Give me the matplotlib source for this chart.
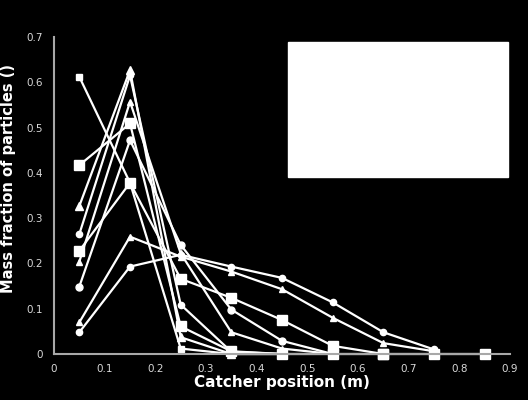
import matplotlib
matplotlib.use("Agg")
import matplotlib.pyplot as plt
from matplotlib.patches import Rectangle

# catcher positions (m)
positions = [0.05, 0.15, 0.25, 0.35, 0.45, 0.55, 0.65, 0.75, 0.85]

# mass fraction per run
run_a = [0.327, 0.627, 0.037, 0.0, 0.0]
run_b = [0.265, 0.615, 0.109, 0.005, 0.0]
run_c = [0.204, 0.557, 0.222, 0.048, 0.012, 0.0]
run_d = [0.417, 0.509, 0.061, 0.006, 0.0, 0.0, 0.0]
run_e = [0.149, 0.472, 0.241, 0.098, 0.029, 0.0]
run_f = [0.612, 0.378, 0.012, 0.0, 0.0]
run_g = [0.228, 0.378, 0.166, 0.124, 0.075, 0.018, 0.0, 0.0, 0.0]
run_h = [0.070, 0.259, 0.215, 0.182, 0.143, 0.080, 0.024, 0.006]
run_i = [0.048, 0.193, 0.219, 0.193, 0.168, 0.114, 0.048, 0.010]

runs = [
    (run_a, "^", 6.0),
    (run_b, "o", 4.5),
    (run_c, "^", 5.0),
    (run_d, "s", 7.0),
    (run_e, "o", 5.0),
    (run_f, "s", 5.0),
    (run_g, "s", 7.0),
    (run_h, "^", 5.0),
    (run_i, "o", 4.5),
]

fig = plt.figure(figsize=(5.28, 4.0), dpi=100, facecolor="black")
ax = fig.add_axes([0.1023, 0.115, 0.8637, 0.7925])
ax.set_facecolor("black")

for vals, mk, ms in runs:
    ax.plot(positions[:len(vals)], vals, color="white", lw=1.6,
            marker=mk, markersize=ms, markerfacecolor="white",
            markeredgecolor="white", clip_on=False)

ax.set_xlim(0, 0.9)
ax.set_ylim(0, 0.7)
ax.set_xticks([0, 0.1, 0.2, 0.3, 0.4, 0.5, 0.6, 0.7, 0.8, 0.9])
ax.set_xticklabels(["0", "0.1", "0.2", "0.3", "0.4", "0.5", "0.6", "0.7", "0.8", "0.9"])
ax.set_yticks([0, 0.1, 0.2, 0.3, 0.4, 0.5, 0.6, 0.7])
ax.set_yticklabels(["0", "0.1", "0.2", "0.3", "0.4", "0.5", "0.6", "0.7"])
ax.tick_params(length=0, colors="#d8d8d8", labelsize=7.5)
ax.tick_params(axis="x", pad=7)
ax.tick_params(axis="y", pad=8)

for side in ["top", "right"]:
    ax.spines[side].set_visible(False)
for side in ["left", "bottom"]:
    ax.spines[side].set_color("#a8a8a8")
    ax.spines[side].set_linewidth(1.5)

ax.set_xlabel("Catcher position (m)", color="white", fontsize=11,
              fontweight="bold", labelpad=1)
ax.set_ylabel("Mass fraction of particles ()", color="white", fontsize=10.5,
              fontweight="bold")
ax.yaxis.set_label_coords(-0.083, 0.555)

# empty white legend box
ax.add_patch(Rectangle((0.513, 0.558), 0.482, 0.426, transform=ax.transAxes,
                       facecolor="white", edgecolor="white", clip_on=False,
                       zorder=5))

fig.savefig("out.png", dpi=100, facecolor="black")
